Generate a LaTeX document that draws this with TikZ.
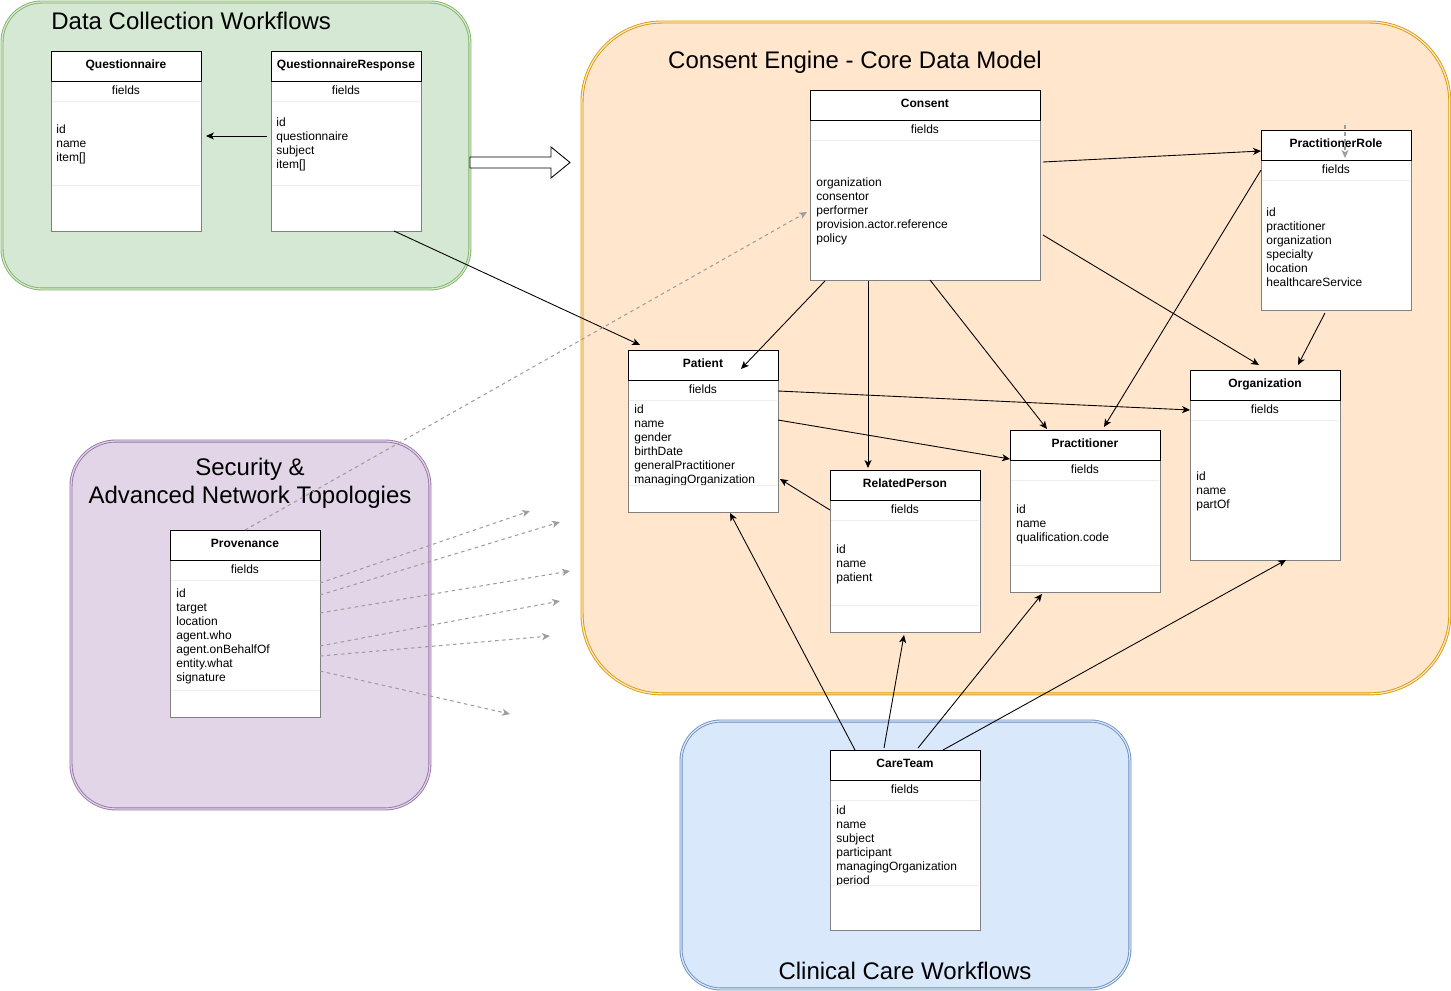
\documentclass[tikz,border=0pt]{standalone}
\usepackage{fontspec}
\setmainfont{Liberation Sans}
\usetikzlibrary{arrows.meta,calc}
\definecolor{dcwfill}{HTML}{D5E8D4}
\definecolor{dcwline}{HTML}{82B366}
\definecolor{cemfill}{HTML}{FFE6CC}
\definecolor{cemline}{HTML}{D79B00}
\definecolor{secfill}{HTML}{E1D5E7}
\definecolor{secline}{HTML}{9673A6}
\definecolor{ccwfill}{HTML}{DAE8FC}
\definecolor{ccwline}{HTML}{6C8EBF}
\tikzset{
  grp/.style={line width=0.5pt,double distance=0.7pt,anchor=north west,inner sep=0pt,outer sep=0pt},
  box/.style={draw=black!50,fill=white,anchor=north west,inner sep=0pt,outer sep=0pt},
  hdr/.style={draw=black,fill=white,anchor=north west,minimum height=0.6cm,inner sep=0pt,outer sep=0pt,
    text height=5pt,text depth=2.6pt,font=\bfseries\fontsize{6.83}{7.97}\selectfont},
  fld/.style={inner sep=0pt,font=\fontsize{6.83}{7.97}\selectfont},
  txt/.style={fld,align=left,anchor=west},
  ttl/.style={inner sep=0pt,align=center,font=\fontsize{13.66}{15.94}\selectfont},
  sep/.style={draw=black!7,line width=0.4pt},
  rel/.style={draw=black,line width=0.5pt,-{Stealth[length=4.5pt,width=4pt,inset=1.2pt]}},
  prv/.style={draw=black!38,line width=0.6pt,dash pattern=on 2pt off 2pt,-{Stealth[length=4.5pt,width=4pt,inset=1.2pt]}}
}

\begin{document}
\begin{tikzpicture}[x=0.02cm,y=-0.02cm]
\useasboundingbox (0,0) rectangle (1451,991);

% workflow groups
\node[grp,draw=dcwline,double=dcwfill,fill=dcwfill,rounded corners=0.8cm,minimum width=9.36cm,minimum height=5.74cm] (dcw) at (2,2) {};
\node[grp,draw=cemline,double=cemfill,fill=cemfill,rounded corners=1.6cm,minimum width=17.36cm,minimum height=13.44cm] (cem) at (582,22) {};
\node[grp,draw=secline,double=secfill,fill=secfill,rounded corners=0.9cm,minimum width=7.18cm,minimum height=7.36cm] (sec) at (71,441) {};
\node[grp,draw=ccwline,double=ccwfill,fill=ccwfill,rounded corners=0.8cm,minimum width=8.98cm,minimum height=5.36cm] (ccw) at (681,721) {};

\node[ttl,anchor=west] (dcwt) at (51,21) {Data Collection Workflows};
\node[ttl] (cemt) at (855,62.5) {Consent Engine - Core Data Model};
\node[ttl] (sect) at (250,483) {Security \&\\Advanced Network Topologies};
\node[ttl] (ccwt) at (905,971) {Clinical Care Workflows};

\draw[fill=white,line width=0.5pt] (470,157) -- (551,157) -- (551,147) -- (570,162.5) -- (551,178) -- (551,168) -- (470,168) -- cycle;

% resources
\foreach \n/\x/\y/\w/\h/\t in {qn/51/51/3/3.6/Questionnaire, qr/271/51/3/3.6/QuestionnaireResponse,
    cons/810/90/4.6/3.8/Consent, prole/1261/130/3/3.6/PractitionerRole, pat/628/350/3/3.24/Patient,
    rp/830/470/3/3.24/RelatedPerson, prac/1010/430/3/3.24/Practitioner, org/1190/370/3/3.8/Organization,
    prov/170/530/3/3.74/Provenance, ct/830/750/3/3.6/CareTeam}
{
  \node[box,minimum width=\w cm,minimum height=\h cm] (\n) at (\x,\y) {};
  \node[hdr,minimum width=\w cm] (\n-h) at (\n.north west) {\t};
  \node[fld] (\n-f) at ($(\n.north)+(0,39.5)$) {fields};
  \draw[sep] ($(\n.north west)+(1,50)$) -- ($(\n.north east)+(-1,50)$);
}
\foreach \n/\d in {qn/185,qr/185,pat/485,rp/605,prac/565,prov/690,ct/885}
  \draw[sep] ($(\n.west |- 0,\d)+(1,0)$) -- ($(\n.east |- 0,\d)+(-1,0)$);

\node[txt] (qn-t) at (56,144.5) {id\\name\\item[]};
\node[txt] (qr-t) at (276,144.5) {id\\questionnaire\\subject\\item[]};
\node[txt] (cons-t) at (816,211) {organization\\consentor\\performer\\provision.actor.reference\\policy};
\node[txt] (prole-t) at (1266,247) {id\\practitioner\\organization\\specialty\\location\\healthcareService};
\node[txt] (rp-t) at (836,564.5) {id\\name\\patient};
\node[txt] (prac-t) at (1016,524.5) {id\\name\\qualification.code};
\node[txt] (org-t) at (1196,491.5) {id\\name\\partOf};
\node[txt] (prov-t) at (176,636.5) {id\\target\\location\\agent.who\\agent.onBehalfOf\\entity.what\\signature};
\begin{scope}
  \clip (628,400) rectangle (778,484);
  \node[txt] (pat-t) at (634,445.5) {id\\name\\gender\\birthDate\\generalPractitioner\\managingOrganization};
\end{scope}
\begin{scope}
  \clip (830,800) rectangle (980,884);
  \node[txt] (ct-t) at (836,846) {id\\name\\subject\\participant\\managingOrganization\\period};
\end{scope}

% references
\foreach \a/\ax/\ay/\b/\bx/\by in {qr.north west/-4/85/qn.north east/5/85,
    qr.south west/123/0/pat.north west/12/-5,
    cons.north east/3/72/prole.north west/0/21,
    cons.north east/3/145/org.north west/69/-5,
    cons.south west/15/1/pat.north west/113/19,
    cons.south west/58/1/rp.north west/38/-2,
    cons.south west/120/0/prac.north west/37/-1,
    prole.north west/0/40/prac.north west/94/-3,
    prole.south west/64/3/org.north west/108/-5,
    pat.north east/0/41/org.north west/0/40,
    pat.north east/0/70/prac.north west/0/29,
    rp.north west/0/40/pat.north east/2/129,
    ct.north west/25/0/pat.south west/102/1,
    ct.north west/54/-2/rp.south west/74/3,
    ct.north west/88/-2/prac.south west/32/2,
    ct.north west/113/0/org.south west/96/0}
  \draw[rel] ($(\a)+(\ax,\ay)$) -- ($(\b)+(\bx,\by)$);

\coordinate (p1) at (530,511);
\coordinate (p2) at (560,522);
\coordinate (p3) at (570,571);
\coordinate (p4) at (560,601);
\coordinate (p5) at (550,636);
\coordinate (p6) at (510,714);
\coordinate (p7) at (1345,125);
\draw[prv] (prov.north) -- ($(cons.north west)+(-3,122)$);
\foreach \s/\e in {53/p1,65/p2,83/p3,116/p4,126/p5,141/p6}
  \draw[prv] ($(prov.north east)+(0,\s)$) -- (\e);
\draw[prv] (p7) -- ($(prole.north west)+(84,28)$);
\end{tikzpicture}
\end{document}
